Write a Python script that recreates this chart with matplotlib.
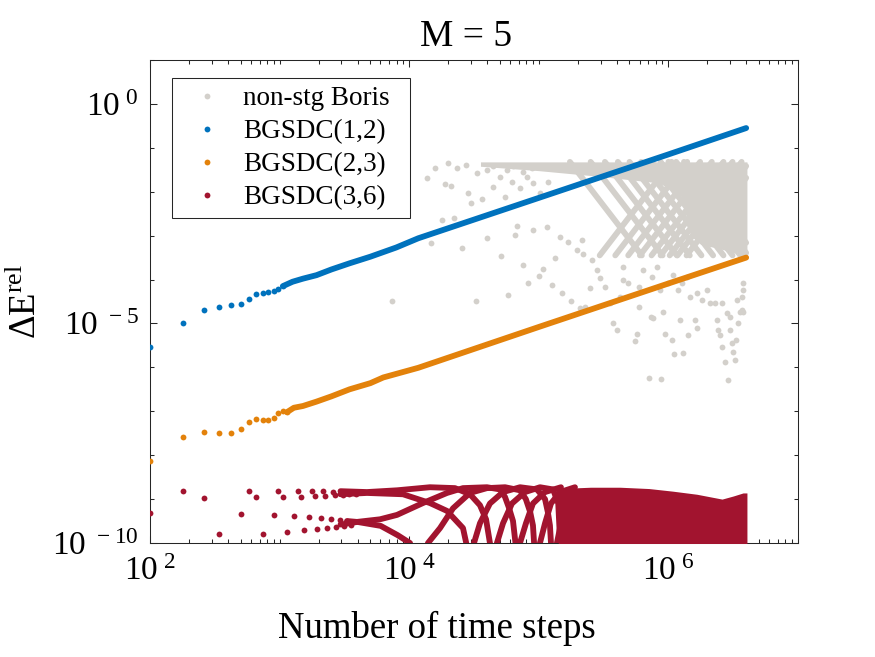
import matplotlib
matplotlib.use("Agg")
import matplotlib.pyplot as plt
import numpy as np
from matplotlib.lines import Line2D
from matplotlib.patches import Rectangle
from matplotlib.ticker import FixedLocator, FuncFormatter, LogLocator, NullFormatter

plt.rcParams["font.family"] = "Liberation Serif"
plt.rcParams["mathtext.fontset"] = "custom"
plt.rcParams["mathtext.rm"] = "Liberation Serif"

GRAY = "#D3D0CB"
BLUE = "#0072BD"
ORANGE = "#E3820B"
RED = "#A2142F"

# ---- BGSDC(1,2): sparse early points (N) and dense part (log10 N) ----
blue_N = [100, 180, 260, 340, 420, 500, 580, 660, 740, 820, 900, 980, 1060]
blue_logE = [-5.54, -4.98, -4.69, -4.62, -4.59, -4.55, -4.44, -4.34, -4.30, -4.29, -4.27, -4.21, -4.15]
blue_line_logN = [3.025, 3.10, 3.18, 3.285, 3.40, 3.54, 3.70, 3.90, 4.07, 5.0, 6.0, 6.60]
blue_line_logE = [-4.15, -4.05, -3.98, -3.90, -3.77, -3.63, -3.48, -3.27, -3.06, -2.14, -1.15, -0.55]

# ---- BGSDC(2,3) ----
orange_N = [100, 180, 260, 340, 420, 500, 580, 660, 740, 820, 900, 980, 1060, 1140]
orange_logE = [-8.14, -7.58, -7.47, -7.50, -7.50, -7.41, -7.25, -7.18, -7.20, -7.20, -7.16, -7.05, -7.00, -7.02]
orange_line_logN = [3.057, 3.11, 3.18, 3.285, 3.40, 3.54, 3.70, 3.80, 4.07, 5.0, 6.0, 6.60]
orange_line_logE = [-7.02, -6.92, -6.88, -6.78, -6.66, -6.50, -6.36, -6.23, -6.01, -5.08, -4.09, -3.50]

# ---- BGSDC(3,6): interleaved branches of the early points ----
red_A_N = [100, 500, 900, 1300, 1700, 2100, 2500, 2900, 3300]
red_A_logE = [-9.32, -9.34, -9.36, -9.39, -9.41, -9.43, -9.46, -9.48, -9.50]
red_B_N = [180, 580, 980, 1380, 1780, 2180, 2580, 2980, 3380, 3780]
red_B_logE = [-8.82, -8.82, -8.82, -8.82, -8.82, -8.82, -8.83, -8.83, -8.84, -8.84]
red_C_N = [260, 660, 1060, 1460, 1860, 2260, 2660, 3060, 3460, 3860]
red_C_logE = [-8.98, -8.95, -8.95, -8.95, -8.93, -8.93, -8.91, -8.91, -8.89, -8.89]
red_D_N = [340, 740, 1140, 1540, 1940, 2340, 2740, 3140, 3540]
red_D_logE = [-9.80, -9.80, -9.75, -9.71, -9.69, -9.66, -9.64, -9.62, -9.58]

# merged branches (log10 N, log10 dE)
red_arc1_logN = [3.47, 3.60, 3.78, 3.91, 4.006, 4.03, 4.12, 4.145, 4.238, 4.338, 4.469, 4.60, 4.74,
                 4.855, 4.90, 4.934, 4.955, 4.97, 4.995, 5.009, 5.048, 5.094, 5.164, 5.279]
red_arc1_logE = [-9.58, -9.52, -9.61, -9.82, -10.0, -10.3, -10.3, -10.0, -9.66, -9.21, -8.86, -8.75, -8.73,
                 -8.80, -9.0, -9.3, -9.6, -10.3, -10.3, -10.0, -9.55, -9.10, -8.84, -8.73]
red_arc2_logN = [3.47, 3.674, 3.952, 4.16, 4.292, 4.415, 4.44, 4.46, 4.48, 4.50, 4.546, 4.623, 4.724, 4.855,
                 4.986, 5.048, 5.07, 5.086, 5.10, 5.125, 5.14, 5.171, 5.21, 5.279]
red_arc2_logE = [-8.89, -8.86, -8.89, -9.09, -9.27, -9.66, -10.0, -10.3, -10.3, -10.0, -9.55, -9.10, -8.84, -8.73,
                 -8.78, -9.0, -9.3, -9.6, -10.3, -10.3, -10.0, -9.55, -9.10, -8.84]
red_arc3_logN = [3.47, 3.674, 3.906, 4.16, 4.353, 4.469, 4.546, 4.593, 4.623, 4.64, 4.66, 4.677, 4.724, 4.793,
                 4.894, 5.009, 5.11, 5.15, 5.17]
red_arc3_logE = [-8.82, -8.84, -8.80, -8.73, -8.75, -8.89, -9.14, -9.46, -10.0, -10.3, -10.3, -10.0, -9.55, -9.10,
                 -8.84, -8.73, -8.78, -9.1, -10.3]
red_arc4_logN = [3.52, 3.597, 3.775, 3.906, 4.106, 4.292, 4.415, 4.60, 4.701, 4.739, 4.77, 4.801, 4.82, 4.84,
                 4.855, 4.901, 4.955, 5.048, 5.171]
red_arc4_logE = [-9.50, -9.52, -9.46, -9.36, -9.09, -8.86, -8.75, -8.73, -8.78, -8.95, -9.2, -9.5, -10.0, -10.3,
                 -10.0, -9.55, -9.10, -8.84, -8.73]
# dense part: upper edge of the solid band
red_band_logN = [5.15, 5.40, 5.627, 5.85, 6.035, 6.22, 6.414, 6.50, 6.576, 6.606]
red_band_top = [-8.76, -8.73, -8.73, -8.76, -8.82, -8.89, -9.00, -8.93, -8.86, -8.86]

# ---- non-stg Boris ----
gray_band_logN = [4.55, 5.00, 5.47, 5.93, 6.10, 6.17, 6.25, 6.40, 6.55, 6.606]
gray_band_bot = [-1.42, -1.52, -1.65, -1.80, -2.10, -3.00, -3.20, -3.30, -3.42, -3.50]
gray_top = -1.32
gray_low = -3.45
# lattice strands: where they leave the top edge / the lower edge
gray_desc_logN = [5.24, 5.40, 5.51, 5.61, 5.70, 5.79, 5.87, 5.94, 6.00, 6.06, 6.12]
gray_rise_logN = [5.47, 5.59, 5.69, 5.78, 5.87, 5.94, 6.01, 6.07, 6.14]
gray_dots_logN = [3.867, 4.168, 4.253, 4.346, 4.407, 4.515, 4.600, 4.708, 4.762, 4.878, 4.917, 5.002, 5.032,
                  5.102, 5.125, 5.179, 5.248, 5.318, 5.356, 5.395, 4.816, 4.832, 4.955, 5.063, 5.164, 5.225,
                  5.333, 5.295, 5.341, 5.410, 4.137, 4.199, 4.299, 4.276, 4.323, 4.454, 4.477, 4.562, 4.647,
                  4.739, 4.793, 4.855, 4.909, 4.955, 5.009, 5.071, 4.369, 4.438, 4.523, 4.600, 4.647, 4.701,
                  4.755, 4.801, 4.878, 4.948, 5.573, 5.603, 5.742, 5.758, 5.773, 5.866, 5.881, 5.958, 5.974,
                  6.028, 6.043, 6.113, 6.090, 6.151, 6.205, 6.221, 5.850, 5.943, 6.375, 6.383, 6.398, 6.414,
                  6.437, 6.460, 6.475, 6.491, 6.498, 6.514, 6.522, 6.537, 6.552, 6.568, 6.576, 5.511, 5.449,
                  5.472, 5.549, 5.627, 5.650, 5.688, 5.650, 5.773, 5.804, 5.873, 5.912, 5.935, 5.997, 6.035,
                  6.074, 6.105, 6.144, 6.167, 6.221, 6.259, 6.298, 6.321, 6.360, 6.414, 6.452, 6.475, 6.529,
                  6.568, 6.576, 6.576]
gray_dots_logE = [-4.490, -3.169, -2.645, -2.599, -3.282, -4.490, -3.055, -3.465, -4.353, -3.670, -4.080, -3.920,
                  -3.761, -4.125, -3.510, -4.308, -4.490, -4.649, -4.626, -4.194, -2.986, -2.781, -2.872, -2.804,
                  -3.032, -3.146, -3.100, -3.328, -3.419, -3.556, -1.688, -1.460, -1.346, -1.825, -1.870, -2.030,
                  -2.257, -2.166, -1.893, -2.121, -1.779, -1.916, -1.665, -1.802, -2.030, -1.779, -1.460, -1.392,
                  -1.574, -1.506, -1.415, -1.665, -1.506, -1.415, -1.551, -1.460, -4.991, -5.150, -5.401, -5.241,
                  -4.626, -4.854, -4.877, -4.740, -5.241, -5.378, -5.697, -5.674, -4.923, -5.264, -4.923, -5.105,
                  -6.244, -6.267, -4.923, -5.150, -5.264, -5.538, -5.879, -6.289, -5.150, -5.446, -5.651, -5.834,
                  -5.378, -4.991, -4.740, -4.695, -4.740, -4.171, -3.784, -3.966, -4.535, -4.399, -4.011, -4.080,
                  -3.715, -4.171, -3.784, -3.943, -3.715, -4.239, -4.080, -3.897, -4.239, -4.080, -3.943, -4.399,
                  -4.308, -4.467, -4.239, -4.535, -4.535, -4.535, -4.763, -4.854, -4.467, -4.399, -4.080, -4.239]

DOT = 4.2  # marker diameter in points
SPAN = 0.555  # horizontal extent (decades) of one lattice strand

fig = plt.figure(figsize=(8.75, 6.57), dpi=100)
ax = fig.add_axes((150 / 875, 1 - 543 / 657, 648 / 875, 483 / 657))
ax.set_xscale("log")
ax.set_yscale("log")


def p(lx):
    return 10.0 ** np.asarray(lx, dtype=float)


# gray series
ax.fill_between(p(gray_band_logN), p(gray_band_bot), 10 ** gray_top, color=GRAY, lw=0, zorder=1)
for x0 in gray_desc_logN:
    x1 = min(x0 + SPAN, 6.60)
    y1 = gray_top + (gray_low - gray_top) * (x1 - x0) / SPAN
    ax.plot(p([x0, x1]), p([gray_top, y1]), color=GRAY, lw=DOT, solid_capstyle="round", zorder=1)
for x0 in gray_rise_logN:
    x1 = min(x0 + SPAN, 6.60)
    y1 = gray_low + (gray_top - gray_low) * (x1 - x0) / SPAN
    ax.plot(p([x0, x1]), p([gray_low, y1]), color=GRAY, lw=DOT, solid_capstyle="round", zorder=1)
ax.plot(p(gray_dots_logN), p(gray_dots_logE), "o", color=GRAY, ms=DOT, mew=0, zorder=1)

# blue and orange
ax.plot(blue_N, p(blue_logE), "o", color=BLUE, ms=DOT, mew=0, zorder=3)
ax.plot(p(blue_line_logN), p(blue_line_logE), color=BLUE, lw=DOT, solid_capstyle="round", zorder=3)
ax.plot(orange_N, p(orange_logE), "o", color=ORANGE, ms=DOT, mew=0, zorder=3)
ax.plot(p(orange_line_logN), p(orange_line_logE), color=ORANGE, lw=DOT, solid_capstyle="round", zorder=3)

# red
for n, e in [(red_A_N, red_A_logE), (red_B_N, red_B_logE), (red_C_N, red_C_logE), (red_D_N, red_D_logE)]:
    ax.plot(n, p(e), "o", color=RED, ms=DOT, mew=0, zorder=3)
for n, e in [(red_arc1_logN, red_arc1_logE), (red_arc2_logN, red_arc2_logE),
             (red_arc3_logN, red_arc3_logE), (red_arc4_logN, red_arc4_logE)]:
    ax.plot(p(n), p(e), color=RED, lw=DOT, solid_capstyle="round", solid_joinstyle="round", zorder=3)
ax.fill_between(p(red_band_logN), 1e-11, p(red_band_top), color=RED, lw=0, zorder=3)

ax.set_xlim(1e2, 1e7)
ax.set_ylim(1e-10, 1e1)


def fmt(v, pos):
    e = int(round(np.log10(v)))
    return r"$\mathregular{10^{\;%d}}$" % e


ax.xaxis.set_major_locator(FixedLocator([1e2, 1e4, 1e6]))
ax.xaxis.set_minor_locator(LogLocator(base=10, subs=np.arange(1, 10), numticks=20))
ax.xaxis.set_major_formatter(FuncFormatter(fmt))
ax.xaxis.set_minor_formatter(NullFormatter())
ax.yaxis.set_major_locator(FixedLocator([1e-10, 1e-5, 1e0]))
ax.yaxis.set_minor_locator(FixedLocator([10.0 ** k for k in range(-10, 2)]))
ax.yaxis.set_major_formatter(FuncFormatter(fmt))
ax.yaxis.set_minor_formatter(NullFormatter())

ax.tick_params(which="both", direction="in", top=True, right=True, labelsize=24,
               color="#262626", width=0.75)
ax.tick_params(which="major", length=5)
ax.tick_params(which="minor", length=3)
ax.tick_params(axis="x", pad=10)
ax.tick_params(axis="y", pad=8)
for s in ax.spines.values():
    s.set_color("#262626")
    s.set_linewidth(0.75)

ax.set_xlabel("Number of time steps", fontsize=26.5, va="top")
ax.xaxis.set_label_coords(0.442, -0.14)
ax.set_ylabel(r"$\mathregular{\Delta E^{rel}}$", fontsize=26.5)
ax.yaxis.set_label_coords(-0.163, 0.5)
ax.set_title("M = 5", fontsize=27, x=0.488, y=1.03, pad=0)

# legend box (MATLAB style, wider right margin)
ax.add_patch(Rectangle((0.034, 0.673), 0.367, 0.29, transform=ax.transAxes, facecolor="white",
                       edgecolor="#262626", lw=0.75, zorder=9))
handles = [Line2D([], [], ls="", marker="o", color=c, ms=DOT, mew=0) for c in (GRAY, BLUE, ORANGE, RED)]
labels = ["non-stg Boris", "BGSDC(1,2)", "BGSDC(2,3)", "BGSDC(3,6)"]
leg = ax.legend(handles, labels, loc="upper left", bbox_to_anchor=(0.034, 0.963), borderaxespad=0,
                fontsize=19.5, frameon=False, handlelength=2.0, handletextpad=0.33,
                labelspacing=0.3, borderpad=0.3)
leg.set_zorder(10)

fig.savefig("out.png", dpi=100)
